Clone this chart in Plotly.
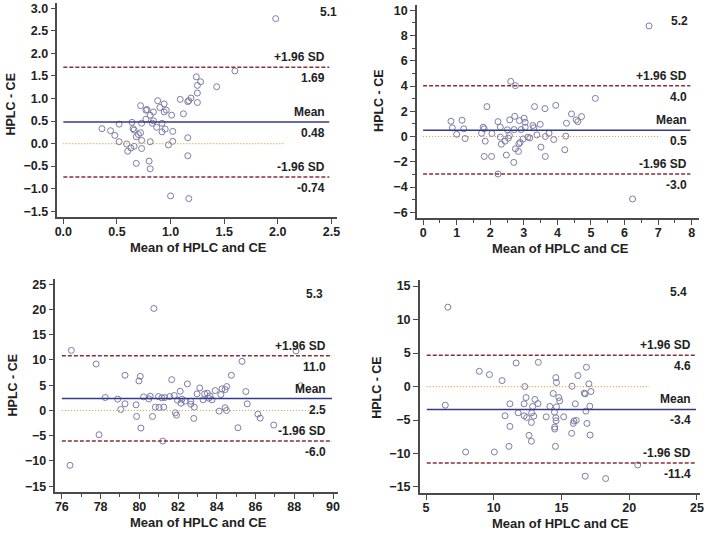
import plotly.graph_objects as go

# ---- data ----
p1_x = [1.98, 1.60, 1.24, 1.28, 1.25, 1.43, 1.25, 1.09, 1.19, 1.17, 1.16, 1.25, 1.12,
        0.88, 0.94, 0.72, 0.78, 0.77, 0.84, 0.90, 0.96, 0.94, 0.81, 1.01, 0.77, 0.84,
        0.52, 0.64, 0.73, 0.83, 0.92, 0.36, 0.44, 0.65, 0.66, 0.72, 0.87, 0.95, 0.92,
        1.02, 0.48, 0.68, 0.70, 0.73, 0.52, 0.81, 1.02, 1.16, 0.59, 0.66, 0.63, 0.60,
        0.73, 0.98, 1.16, 0.68, 0.80, 0.81, 1.00, 1.17]
p1_y = [2.77, 1.61, 1.48, 1.37, 1.29, 1.26, 1.12, 0.98, 1.01, 0.95, 0.93, 0.91, 0.66,
        0.95, 0.88, 0.84, 0.755, 0.74, 0.70, 0.80, 0.74, 0.70, 0.63, 0.63, 0.54, 0.505,
        0.43, 0.47, 0.45, 0.45, 0.45, 0.33, 0.285, 0.33, 0.30, 0.24, 0.36, 0.32, 0.26,
        0.27, 0.18, 0.15, 0.20, 0.07, 0.04, 0.04, 0.05, 0.13, -0.01, -0.06, -0.10, -0.17,
        -0.11, -0.03, -0.27, -0.44, -0.39, -0.56, -1.16, -1.22]

p2_x = [2.61, 2.75, 5.13, 1.90, 3.32, 3.63, 3.95, 4.42, 4.72, 4.56, 4.61, 4.27, 0.83,
        1.16, 0.87, 1.21, 1.00, 1.25, 1.79, 1.82, 1.74, 1.85, 2.05, 2.23, 2.30, 2.51,
        2.58, 2.73, 2.87, 3.01, 3.04, 2.71, 2.92, 3.04, 3.27, 3.49, 3.30, 3.39, 3.75,
        3.64, 3.89, 4.25, 3.51, 3.64, 4.22, 2.30, 2.44, 2.33, 2.54, 2.57, 2.89, 2.85,
        2.98, 3.12, 3.18, 2.75, 2.84, 2.48, 2.70, 1.82, 2.04, 2.23, 6.24, 6.73]
p2_y = [4.37, 4.03, 3.02, 2.37, 2.37, 2.21, 2.47, 1.79, 1.58, 1.32, 1.18, 1.05, 1.21,
        1.29, 0.69, 0.61, 0.18, -0.16, 0.74, 0.61, 0.26, -0.37, 0.24, 1.18, 0.74, 0.53,
        1.32, 1.60, 1.26, 1.45, 1.13, 0.55, 0.55, 0.74, 0.87, 0.97, 0.69, 0.13, 0.26,
        0.00, -0.24, 0.03, -0.84, -1.58, -1.05, -0.05, -0.37, -0.61, -0.13, 0.08, -0.47,
        -0.58, -0.19, -0.05, -0.11, -0.97, -1.18, -1.47, -2.05, -1.58, -1.58, -2.97,
        -4.95, 8.76]

p3_x = [80.75, 76.49, 77.77, 76.42, 77.92, 78.24, 78.88, 79.04, 79.26, 79.26, 80.05,
        79.98, 79.83, 79.86, 80.08, 80.22, 80.49, 80.56, 80.68, 80.83, 80.99, 81.02,
        81.16, 81.26, 81.31, 81.21, 81.67, 81.57, 81.80, 81.86, 81.92, 81.97, 82.11,
        82.15, 82.20, 82.37, 82.48, 82.66, 82.66, 82.84, 82.81, 82.98, 83.12, 83.29,
        83.37, 83.51, 83.59, 83.65, 83.75, 83.92, 84.21, 84.27, 84.43, 84.51, 84.12,
        84.43, 84.50, 84.75, 85.09, 85.30, 85.50, 85.57, 86.12, 86.24, 86.94, 88.09,
        88.33]
p3_y = [20.2, 11.9, 9.2, -10.85, -4.8, 2.56, 2.24, 0.2, 1.32, 6.97, 6.77, 5.85, 1.12,
        -1.18, -3.49, 2.7, 2.3, 2.83, -1.18, 0.66, 2.76, 0.6, 2.5, 0.66, 2.56, -6.05,
        6.11, 2.76, 2.96, -0.46, -0.92, 2.04, 3.81, 1.45, 2.24, 1.84, 5.26, 1.84, 1.25,
        0.66, -1.58, 3.29, 4.47, 2.11, 3.29, 3.42, 2.43, 2.89, 2.11, 3.94, 3.16, 4.28,
        4.15, 4.74, -0.13, 0.53, 0.0, 6.97, -3.42, 9.73, 3.75, 1.32, -0.72, -1.51,
        -2.89, 11.8, 4.9]

p4_x = [6.61, 6.42, 7.92, 10.04, 11.12, 8.93, 9.68, 10.61, 11.65, 13.29, 10.83, 11.19,
        11.19, 12.29, 12.38, 12.24, 11.80, 12.24, 12.43, 12.80, 12.87, 13.04, 13.26,
        12.95, 12.78, 12.60, 12.78, 13.87, 14.14, 14.39, 14.58, 14.63, 14.80, 14.87,
        14.63, 14.48, 14.58, 14.60, 14.50, 14.50, 14.55, 15.16, 15.78, 16.02, 16.21,
        16.84, 17.02, 16.68, 16.75, 17.17, 17.09, 16.80, 15.92, 16.09, 15.87, 16.88,
        15.75, 17.11, 16.75, 18.26, 20.63]
p4_y = [11.86, -2.78, -9.77, -9.77, -8.93, 2.28, 1.79, 0.89, 3.52, 3.62, -4.37, -2.58,
        -5.95, 0.0, -1.64, -2.58, -3.92, -4.37, -4.61, -3.92, -2.98, -1.93, -2.55,
        -4.42, -5.36, -7.29, -8.18, -4.52, -2.98, -1.04, 1.34, 0.6, -1.64, -2.13, -3.03,
        -3.82, -4.66, -5.11, -6.05, -6.35, -8.93, -4.52, 0.05, -2.58, 1.64, 2.88, 0.4,
        -0.99, -1.09, -0.74, -2.93, -3.67, -5.16, -5.06, -5.51, -5.51, -6.99, -7.24,
        -13.39, -13.74, -11.71]

panel_names = ['5.1', '5.2', '5.3', '5.4']
means = [0.48, 0.5, 2.37, -3.42]
upper = [1.69, 4.03, 10.85, 4.66]
lower = [-0.74, -2.97, -6.05, -11.4]
mean_labels = ['0.48', '0.5', '2.5', '-3.4']
upper_labels = ['1.69', '4.0', '11.0', '4.6']
lower_labels = ['-0.74', '-3.0', '-6.0', '-11.4']

xs = [p1_x, p2_x, p3_x, p4_x]
ys = [p1_y, p2_y, p3_y, p4_y]

W, H = 709, 535

# pixel boxes of each plot area (left, right, top, bottom) and axis setup
boxes = [(55, 337, 2, 217), (418, 703, 4, 218), (53, 338, 279, 493), (421, 704, 280, 494)]
x_ranges = [[-0.055, 2.549], [-0.186, 8.22], [75.67, 90.24], [4.54, 25.23]]
y_ranges = [[-1.633, 3.117], [-6.47, 10.42], [-16.17, 26.04], [-15.92, 15.92]]
x_dticks = [0.5, 1, 2, 5]
y_dticks = [0.5, 2, 5, 5]
x_minor = [None, 0.5, 1, None]
y_minor = [None, 1, None, None]
line_ends = [(0, 2.48), (0, 7.96), (76.0, 89.95), (5.05, 24.93)]
zero_ends = [2.07, 7.07, 89.2, 21.48]
label_right = [327, 693, 328, 697]
name_pos = [(339, 11), (694, 20), (325, 294), (693, 292)]
ytitle_pos = [(8, 103), (379, 100), (10, 385), (377, 388)]
xtitle_pos = [(197, 247), (563, 248), (197, 523), (563, 524)]

axis_col = '#4a4a4a'
font_fam = 'Liberation Sans, Arial, sans-serif'

fig = go.Figure()
annotations = []
shapes = []
layout = {}

for i in range(4):
    sfx = '' if i == 0 else str(i + 1)
    xa, ya = 'x' + sfx, 'y' + sfx
    left, right, top, bottom = boxes[i]

    fig.add_trace(go.Scatter(
        x=xs[i], y=ys[i], mode='markers', xaxis=xa, yaxis=ya,
        marker=dict(symbol='circle-open', size=6, color='#7c7ca6',
                    line=dict(width=1, color='#7c7ca6')),
        showlegend=False, hoverinfo='skip'))

    common = dict(showgrid=False, zeroline=False, showline=True, linecolor=axis_col,
                  linewidth=1.5, ticks='outside', ticklen=5, tickwidth=1.2,
                  tickcolor=axis_col,
                  tickfont=dict(family=font_fam, size=12.5, color='#222', weight='bold'))
    xaxis = dict(common, domain=[left / W, right / W], range=x_ranges[i],
                 dtick=x_dticks[i], tick0=0, anchor=ya, ticklabelstandoff=-3)
    yaxis = dict(common, domain=[1 - bottom / H, 1 - top / H], range=y_ranges[i],
                 dtick=y_dticks[i], tick0=0, anchor=xa)
    if i == 0:
        xaxis['tickformat'] = '.1f'
        yaxis['tickformat'] = '.1f'
    if x_minor[i]:
        xaxis['minor'] = dict(dtick=x_minor[i], tick0=0, ticks='outside', ticklen=3,
                              tickcolor=axis_col)
    if y_minor[i]:
        yaxis['minor'] = dict(dtick=y_minor[i], tick0=0, ticks='outside', ticklen=3,
                              tickcolor=axis_col)
    layout['xaxis' + sfx] = xaxis
    layout['yaxis' + sfx] = yaxis

    x0, x1 = line_ends[i]
    shapes.append(dict(type='line', xref=xa, yref=ya, x0=x0, x1=zero_ends[i], y0=0, y1=0,
                       line=dict(color='#dc9c3c', width=1.2, dash='1px,2px')))
    shapes.append(dict(type='line', xref=xa, yref=ya, x0=x0, x1=x1, y0=means[i],
                       y1=means[i], line=dict(color='#333a88', width=1.5)))
    for v in (upper[i], lower[i]):
        shapes.append(dict(type='line', xref=xa, yref=ya, x0=x0, x1=x1, y0=v, y1=v,
                           line=dict(color='#86303a', width=1.5, dash='4px,2px')))

    lab_font = dict(family=font_fam, size=12, color='#222', weight='bold')
    rx = label_right[i] / W
    for v, top_txt, bot_txt in ((upper[i], '+1.96 SD', upper_labels[i]),
                                (means[i], 'Mean', mean_labels[i]),
                                (lower[i], '-1.96 SD', lower_labels[i])):
        annotations.append(dict(xref='paper', yref=ya, x=rx, y=v, text=top_txt,
                                showarrow=False, xanchor='right', yanchor='bottom',
                                yshift=1, font=lab_font))
        annotations.append(dict(xref='paper', yref=ya, x=rx, y=v, text=bot_txt,
                                showarrow=False, xanchor='right', yanchor='top',
                                yshift=-2, font=lab_font))

    nx, ny = name_pos[i]
    annotations.append(dict(xref='paper', yref='paper', x=nx / W, y=1 - ny / H,
                            text=panel_names[i], showarrow=False, xanchor='right',
                            yanchor='middle', font=lab_font))
    tx, ty = ytitle_pos[i]
    annotations.append(dict(xref='paper', yref='paper', x=tx / W, y=1 - ty / H,
                            text='HPLC - CE', showarrow=False, textangle=-90,
                            xanchor='center', yanchor='middle',
                            font=dict(family=font_fam, size=12.5, color='#222',
                                      weight='bold')))
    tx, ty = xtitle_pos[i]
    annotations.append(dict(xref='paper', yref='paper', x=tx / W, y=1 - ty / H,
                            text='Mean of HPLC and CE', showarrow=False,
                            xanchor='center', yanchor='middle',
                            font=dict(family=font_fam, size=13, color='#222',
                                      weight='bold')))

fig.update_layout(
    width=W, height=H,
    margin=dict(l=0, r=0, t=0, b=0),
    paper_bgcolor='white', plot_bgcolor='white',
    shapes=shapes, annotations=annotations,
    **layout)

# the page body has a default 8px margin; drop it so the figure fills the window
fig.write_html("out.html", config={'displayModeBar': False},
               post_script="document.body.style.margin='0';")
